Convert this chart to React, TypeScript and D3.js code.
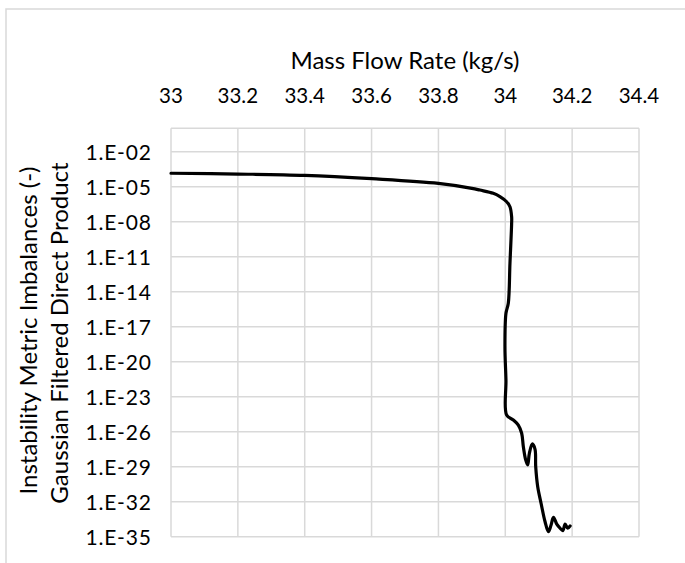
import React, { useEffect } from "react";
import * as d3 from "d3";

// Mass flow rate (kg/s) along the sweep
const massFlow = [
  33.0, 33.2, 33.4, 33.6, 33.8, 33.9, 33.924, 33.964, 33.984, 34.004, 34.014,
  34.019, 34.019, 34.014, 34.009, 34.002, 33.999, 34.002, 34.004, 34.024,
  34.039, 34.049, 34.054, 34.061, 34.067, 34.072, 34.081, 34.089, 34.091,
  34.097, 34.107, 34.119, 34.129, 34.137, 34.144, 34.154, 34.164, 34.172,
  34.179, 34.187, 34.194,
];

// Gaussian filtered direct product of the instability metric imbalances (-)
const imbalance = [
  1.4e-4, 1.2e-4, 9.3e-5, 4.8e-5, 1.9e-5, 7.2e-6, 5.1e-6, 2.7e-6, 1.4e-6,
  5.1e-7, 1.9e-7, 2.6e-8, 7.2e-9, 2.7e-12, 1e-15, 1.4e-16, 1.9e-19, 2.7e-22,
  2.7e-25, 1e-25, 3.7e-26, 7.3e-27, 5.2e-28, 3.8e-29, 1.4e-29, 1.4e-28,
  8.9e-28, 3.1e-28, 1e-29, 1.9e-31, 7.4e-33, 1.9e-34, 2.7e-35, 1e-34, 4.6e-34,
  1.2e-34, 5.3e-35, 3.3e-35, 1.2e-34, 5.3e-35, 8.3e-35,
];

const xTicks = [33, 33.2, 33.4, 33.6, 33.8, 34, 34.2, 34.4];
const yTickExponents = [-2, -5, -8, -11, -14, -17, -20, -23, -26, -29, -32, -35];

const W = 685;
const H = 563;
const FONT = "Lato, 'Open Sans', sans-serif";

export default function App() {
  useEffect(() => {
    document.body.style.margin = "0";
  }, []);

  const left = 171;
  const right = 639;
  const top = 128.3;
  const bottom = 536.7;

  const x = d3.scaleLinear().domain([33, 34.4]).range([left, right]);
  const y = d3.scaleLog().domain([1e-35, 1]).range([bottom, top]);

  const pts: [number, number][] = massFlow.map((m, i) => [m, imbalance[i]]);
  const line = d3
    .line<[number, number]>()
    .x((d) => x(d[0]))
    .y((d) => y(d[1]))
    .curve(d3.curveCatmullRom.alpha(0.5));

  const grid = "#d9d9d9";
  const fmt = (e: number) => `1.E-${String(-e).padStart(2, "0")}`;

  return (
    <svg width={W} height={H} style={{ display: "block", background: "#fff" }}>
      {/* chart frame */}
      <rect x={6} y={9} width={W + 20} height={H + 20} fill="#fff" stroke={grid} strokeWidth={1.5} />

      {/* gridlines */}
      {xTicks.map((t) => (
        <line key={"gx" + t} x1={x(t)} x2={x(t)} y1={top} y2={bottom} stroke={grid} strokeWidth={1.5} />
      ))}
      {[0, ...yTickExponents].map((e) => (
        <line key={"gy" + e} x1={left} x2={right} y1={y(Math.pow(10, e))} y2={y(Math.pow(10, e))} stroke={grid} strokeWidth={1.5} />
      ))}

      {/* x tick labels along the top */}
      {xTicks.map((t) => (
        <text key={"tx" + t} x={x(t)} y={103.3} textAnchor="middle" fontFamily={FONT} fontSize={20.5} fill="#000">
          {String(t)}
        </text>
      ))}
      <text x={405} y={69.3} textAnchor="middle" fontFamily={FONT} fontSize={24} fill="#000">
        Mass Flow Rate (kg/s)
      </text>

      {/* y tick labels */}
      {yTickExponents.map((e) => (
        <text key={"ty" + e} x={151.7} y={y(Math.pow(10, e))} dy="0.38em" textAnchor="end" fontFamily={FONT} fontSize={21} letterSpacing={0.8} fill="#000">
          {fmt(e)}
        </text>
      ))}
      <g transform={`translate(36.5, 330.5) rotate(-90)`}>
        <text x={0} y={0} textAnchor="middle" fontFamily={FONT} fontSize={24} fill="#000">
          Instability Metric Imbalances (-)
        </text>
      </g>
      <g transform={`translate(68, 333) rotate(-90)`}>
        <text x={0} y={0} textAnchor="middle" fontFamily={FONT} fontSize={24} fill="#000">
          Gaussian Filtered Direct Product
        </text>
      </g>

      {/* series */}
      <path d={line(pts) ?? ""} fill="none" stroke="#000" strokeWidth={3.2} strokeLinejoin="round" strokeLinecap="round" />
    </svg>
  );
}
